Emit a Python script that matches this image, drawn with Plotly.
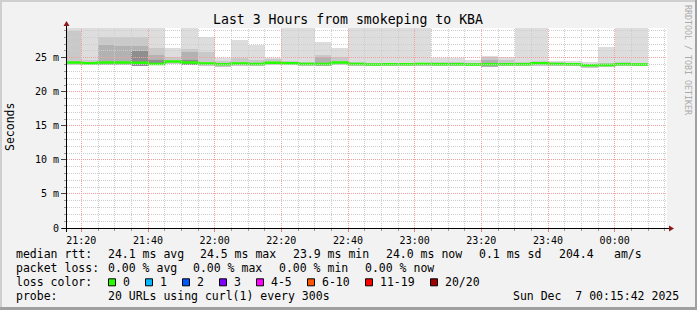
import plotly.graph_objects as go
import pandas as pd

# ---------------- data ----------------
# 5-minute intervals, labelled by their end time
t_end = pd.date_range("2025-12-06 21:20", "2025-12-07 00:10", freq="5min")

median = [24.30, 24.20, 24.30, 24.30, 24.25, 24.10, 24.45, 24.30, 24.15, 24.05,
          24.15, 24.10, 24.25, 24.20, 24.10, 24.10, 24.30, 24.10, 24.00, 24.05,
          24.05, 24.10, 24.05, 24.05, 24.00, 24.05, 24.05, 24.05, 24.20, 24.10,
          24.05, 23.90, 23.95, 24.05, 24.00]
ping_max = [30.0, 30.0, 30.0, 30.0, 30.0, 30.0, 26.45, 30.0, 28.0, 24.97,
            27.6, 26.93, 24.97, 30.0, 30.0, 27.37, 26.45, 30.0, 30.0, 30.0,
            30.0, 30.0, 24.97, 24.95, 24.68, 25.3, 25.07, 30.0, 30.0, 24.48,
            24.48, 24.45, 26.63, 30.0, 30.0]
ping_p2 = [28.88, 24.6, 28.0, 28.0, 28.0, 26.5, 25.07, 26.3, 25.8, 24.5,
           24.97, 24.7, 24.75, 24.5, 24.4, 25.4, 25.07, 24.4, 24.3, 24.3,
           24.3, 24.3, 24.4, 24.4, 24.3, 25.07, 24.6, 24.4, 24.5, 24.35,
           24.3, 24.1, 24.3, 24.35, 24.3]
ping_p3 = [None, None, 26.9, 26.8, 26.8, 25.45, None, 25.9, None, None,
           None, None, None, None, None, 25.07, None, None, None, None,
           None, None, None, None, None, 24.6, None, None, None, None,
           None, None, None, None, None]
ping_p4 = [None, None, None, None, 26.05, 24.7, None, 24.6, None, None,
           None, None, None, None, None, None, None, None, None, None,
           None, None, None, None, None, None, None, None, None, None,
           None, None, None, None, None]
ping_min = [23.95, 23.95, 24.0, 24.0, 23.75, 23.9, 24.1, 24.0, 23.85, 23.7,
            23.85, 23.8, 23.9, 23.9, 23.85, 23.8, 24.0, 23.8, 23.75, 23.8,
            23.8, 23.85, 23.8, 23.8, 23.75, 23.7, 23.75, 23.8, 23.85, 23.8,
            23.8, 23.5, 23.65, 23.75, 23.8]

y_tickvals = [0, 5, 10, 15, 20, 25]
y_ticktext = ["0", "5 m", "10 m", "15 m", "20 m", "25 m"]

stats_rtt = ["24.1 ms avg", "24.5 ms max", "23.9 ms min", "24.0 ms now", "0.1 ms sd", "204.4", "am/s"]
stats_loss = ["0.00 % avg", "0.00 % max", "0.00 % min", "0.00 % now"]
loss_labels = ["0", "1", "2", "3", "4-5", "6-10", "11-19", "20/20"]
loss_colors = ["#26ff00", "#00b8ff", "#0059ff", "#7e00ff", "#ff00ff", "#ff5500", "#ff0000", "#a10000"]

# ---------------- layout constants ----------------
W, H = 697, 310
L, R, T, B = 67, 30, 28, 82
PW, PH = W - L - R, H - T - B
YMAX = 29.37
X0 = pd.Timestamp("2025-12-06 21:15:42")
X1 = pd.Timestamp("2025-12-07 00:15:42")
SPAN = (X1 - X0).total_seconds()
MONO = "DejaVu Sans Mono"


def px(x):
    return (x - L) / PW


def py(y):
    return (T + PH - y) / PH


def t2pix(t):
    return L + (t - X0).total_seconds() / SPAN * PW


def v2pix(v):
    return T + PH - v / YMAX * PH


fig = go.Figure()

step = pd.Timedelta("5min")
centers = t_end - step / 2
width_ms = step.total_seconds() * 1000

bands = [(ping_max, "#dddddd"), (ping_p2, "#c9c9c9"), (ping_p3, "#b2b2b2"), (ping_p4, "#8e8e8e")]
for tops, col in bands:
    xs, hs, bs = [], [], []
    for c, top, lo in zip(centers, tops, ping_min):
        if top is None:
            continue
        xs.append(c)
        hs.append(top - lo)
        bs.append(lo)
    fig.add_trace(go.Bar(x=xs, y=hs, base=bs, width=width_ms,
                         marker=dict(color=col, line=dict(width=0)),
                         hoverinfo="skip", showlegend=False))

# median line (step)
t_start = list(t_end - step)
fig.add_trace(go.Scatter(x=t_start + [t_end[-1]], y=median + [median[-1]],
                         mode="lines", line=dict(color="#26ff00", width=2.5, shape="hv"),
                         hoverinfo="skip", showlegend=False))

shapes = []
MAJ, MIN = "#f2a0a0", "#cdcdcd"
# grid on top of data (like rrdtool), snapped to pixel centres
grid_times = pd.date_range("2025-12-06 21:20", "2025-12-07 00:15", freq="5min")
for t in grid_times:
    major = (t.minute % 20 == 0)
    xp = int(t2pix(t)) + 0.5
    shapes.append(dict(type="line", xref="paper", yref="paper", x0=px(xp), x1=px(xp), y0=0, y1=1,
                       layer="above",
                       line=dict(color=MAJ if major else MIN, width=1, dash="1px,1px")))
for v in range(1, 30):
    if v > YMAX:
        break
    major = (v % 5 == 0)
    yp = int(v2pix(v)) + 0.5
    shapes.append(dict(type="line", xref="paper", yref="paper", x0=0, x1=1, y0=py(yp), y1=py(yp),
                       layer="above",
                       line=dict(color=MAJ if major else MIN, width=1, dash="1px,1px")))

# axis lines and arrows
shapes.append(dict(type="line", xref="paper", yref="paper", x0=px(62), x1=px(670), y0=py(228.5), y1=py(228.5),
                   line=dict(color="#000000", width=1), layer="above"))
shapes.append(dict(type="line", xref="paper", yref="paper", x0=px(66.5), x1=px(66.5), y0=py(232), y1=py(24),
                   line=dict(color="#000000", width=1), layer="above"))
shapes.append(dict(type="path", xref="paper", yref="paper", layer="above",
                   path=f"M {px(669)} {py(225.5)} L {px(674)} {py(228.5)} L {px(669)} {py(231.5)} Z",
                   fillcolor="#8b1a1a", line=dict(width=0)))
shapes.append(dict(type="path", xref="paper", yref="paper", layer="above",
                   path=f"M {px(63.5)} {py(26)} L {px(66.5)} {py(21)} L {px(69.5)} {py(26)} Z",
                   fillcolor="#8b1a1a", line=dict(width=0)))

# frame of the image
shapes.append(dict(type="rect", xref="paper", yref="paper", x0=px(0), x1=px(2), y0=py(0), y1=py(H),
                   fillcolor="#cfcfcf", line=dict(width=0)))
shapes.append(dict(type="rect", xref="paper", yref="paper", x0=px(0), x1=px(W), y0=py(0), y1=py(2),
                   fillcolor="#cfcfcf", line=dict(width=0)))
shapes.append(dict(type="rect", xref="paper", yref="paper", x0=px(W - 2), x1=px(W), y0=py(0), y1=py(H),
                   fillcolor="#a0a0a0", line=dict(width=0)))
shapes.append(dict(type="rect", xref="paper", yref="paper", x0=px(0), x1=px(W), y0=py(H - 3), y1=py(H),
                   fillcolor="#a0a0a0", line=dict(width=0)))

ann = []


def txt(x, y, s, size=11.5, color="#000000", anchor="left", angle=0):
    ann.append(dict(x=px(x), y=py(y), xref="paper", yref="paper", text=s, showarrow=False,
                    xanchor=anchor, yanchor="middle", textangle=angle, borderpad=0, borderwidth=0,
                    font=dict(family=MONO, size=size, color=color)))


txt(348, 19, "Last 3 Hours from smokeping to KBA", size=13.2, anchor="center")
txt(10, 127, "Seconds", size=11.5, anchor="center", angle=-90)
txt(688, 60, "RRDTOOL / TOBI OETIKER", size=8.3, color="#ababab", anchor="center", angle=90)

row1, row2, row3, row4 = 254.3, 268.0, 282.3, 295.8
txt(16, row1, "median rtt:")
for s, x in zip(stats_rtt, [107.7, 200, 293.3, 386, 479.3, 559, 614.3]):
    txt(x, row1, s)
txt(16, row2, "packet loss:")
for s, x in zip(stats_loss, [107.7, 193.3, 279.3, 365]):
    txt(x, row2, s)
txt(16, row3, "loss color:")
for lab, col, bx in zip(loss_labels, loss_colors, [108.5, 145.5, 182.5, 219.5, 256.5, 307.5, 365.5, 430.5]):
    shapes.append(dict(type="rect", xref="paper", yref="paper", x0=px(bx), x1=px(bx + 7),
                       y0=py(row3 + 3.5), y1=py(row3 - 3.5), fillcolor=col, line=dict(color="#000000", width=1)))
    txt(bx + 14.8, row3, lab)
txt(16, row4, "probe:")
txt(107.7, row4, "20 URLs using curl(1) every 300s")
txt(513.3, row4, "Sun Dec\u00a0\u00a07 00:15:42 2025")

fig.update_layout(
    width=W, height=H, autosize=False,
    margin=dict(l=L, r=R, t=T, b=B, pad=0),
    paper_bgcolor="#f2f2f2", plot_bgcolor="#ffffff",
    barmode="overlay", bargap=0,
    showlegend=False,
    shapes=shapes, annotations=ann,
    font=dict(family=MONO, size=10, color="#000000"),
    xaxis=dict(type="date", range=[X0, X1], showgrid=False, zeroline=False, showline=False,
               tickmode="array", tickvals=list(pd.date_range("2025-12-06 21:20", "2025-12-07 00:00", freq="20min")),
               tickformat="%H:%M", ticks="outside", ticklen=3, tickcolor="#e08080",
               tickfont=dict(family=MONO, size=10, color="#000000"),
               minor=dict(ticks="outside", ticklen=2, tickcolor="#999999", dtick=300000,
                          tick0="2025-12-06 21:20", showgrid=False),
               fixedrange=True),
    yaxis=dict(range=[0, YMAX], showgrid=False, zeroline=False, showline=False,
               tickmode="array", tickvals=y_tickvals, ticktext=y_ticktext,
               ticks="outside", ticklen=5, tickcolor="#444444",
               tickfont=dict(family=MONO, size=10, color="#000000"),
               minor=dict(ticks="outside", ticklen=2, tickcolor="#999999", dtick=1, showgrid=False),
               fixedrange=True),
)

fig.write_html("out.html")
